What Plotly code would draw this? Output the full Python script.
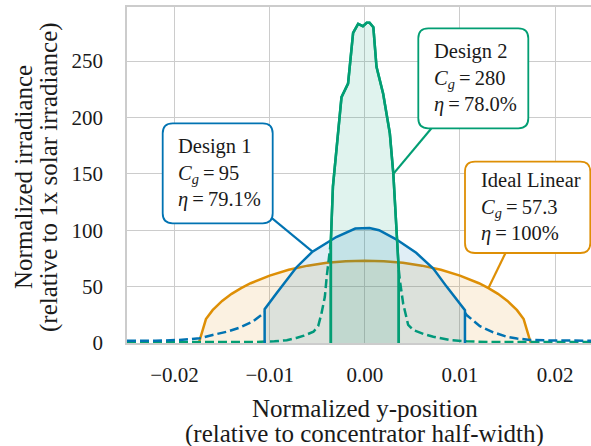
import plotly.graph_objects as go

# ---------------- data ----------------
ideal_x = [-0.01745, -0.0167, -0.016, -0.015, -0.014, -0.013, -0.012, -0.010, -0.008, -0.006,
           -0.004, -0.002, 0.0, 0.002, 0.004, 0.006, 0.008, 0.010, 0.012, 0.013, 0.014,
           0.015, 0.016, 0.0167, 0.01745]
ideal_y = [0, 21.2, 29.1, 37.3, 43.6, 48.7, 53.0, 59.8, 64.9, 68.6, 71.1, 72.5, 73.0, 72.5,
           71.1, 68.6, 64.9, 59.8, 53.0, 48.7, 43.6, 37.3, 29.1, 21.2, 0]

d1_x = [-0.01053, -0.01053, -0.0093, -0.0072, -0.0055, -0.003, -0.001, 0.0005, 0.0015,
        0.0033, 0.0054, 0.0072, 0.0086, 0.0103, 0.01053, 0.01053]
d1_y = [0, 30, 44, 67, 81, 94, 101.5, 102, 100, 92, 80, 66, 50, 31, 29, 0]
d1_left_x = [-0.025, -0.022, -0.0195, -0.01737, -0.016, -0.0145, -0.01316, -0.0118, -0.01053]
d1_left_y = [2, 2, 2.7, 4.2, 7.1, 10, 13.6, 19, 27]
d1_right_x = [0.01053, 0.0107, 0.0121, 0.0135, 0.0149, 0.016, 0.01737, 0.0195, 0.025]
d1_right_y = [27, 24.8, 15, 9.5, 5.6, 4, 2.7, 2.2, 2]

d2_x = [-0.00357, -0.00357, -0.00335, -0.0028, -0.00245, -0.00176, -0.00123, -0.0007,
        -0.0002, 0.0002, 0.0005, 0.0009, 0.00123, 0.00193, 0.00263, 0.003, 0.00326,
        0.0035, 0.00357, 0.00357]
d2_y = [0, 90, 139, 186, 218, 230, 275, 283, 281, 284, 284, 280, 245, 221, 186, 150, 112,
        70, 65, 0]
d2_left_x = [-0.025, -0.012, -0.0095, -0.0082, -0.0072, -0.0064, -0.0054, -0.0049,
             -0.00456, -0.0042, -0.004, -0.0038, -0.00357]
d2_left_y = [0.8, 0.8, 1.5, 2.5, 4.5, 6.5, 10, 15, 26, 41, 59, 75, 90]
d2_right_x = [0.00357, 0.00368, 0.00403, 0.00456, 0.0051, 0.0062, 0.0072, 0.0089, 0.0107,
              0.013, 0.025]
d2_right_y = [65, 56, 35, 16, 11.5, 8, 5.6, 2.7, 1.5, 0.8, 0.8]

x_ticks = [-0.02, -0.01, 0.0, 0.01, 0.02]
y_ticks = [0, 50, 100, 150, 200, 250]

EQ = "\u2009=\u2009"
labels = {
    "ideal": f"Ideal Linear<br><i>C</i><sub><i>g</i></sub>{EQ}57.3<br><i>η</i>{EQ}100%",
    "d1": f"Design 1<br><i>C</i><sub><i>g</i></sub>{EQ}95<br><i>η</i>{EQ}79.1%",
    "d2": f"Design 2<br><i>C</i><sub><i>g</i></sub>{EQ}280<br><i>η</i>{EQ}78.0%",
}
x_title = ["Normalized y-position", "(relative to concentrator half-width)"]
y_title = ["Normalized irradiance", "(relative to 1x solar irradiance)"]

# ---------------- styling / layout ----------------
BLUE, ORANGE, GREEN = "#0173b2", "#de8f05", "#029e73"
FILL_A = 0.12
FONT = "Liberation Serif, Times New Roman, serif"
TXT = "#1a1a1a"
GRID = "#cccccc"
LW = 2.5
DASH = "9px,4px"
TICK_SIZE = 21
BOX_SIZE = 20.5
TITLE_SIZE = 25

W, H = 591, 446
L, R, T, B = 127, 0, 7, 103
PW, PH = W - L - R, H - T - B
XR = [-0.025, 0.02378]
YR = [0, 298]


def rgba(hexc, a):
    h = hexc.lstrip("#")
    return f"rgba({int(h[0:2],16)},{int(h[2:4],16)},{int(h[4:6],16)},{a})"


def xp(px):
    return (px - L) / PW


def yp(py):
    return (H - B - py) / PH


def d2p(x, y):
    return (x - XR[0]) / (XR[1] - XR[0]), (y - YR[0]) / (YR[1] - YR[0])


def rounded_box(x0, y0, x1, y1, r):
    a, b = xp(x0), xp(x1)
    top, bot = yp(y0), yp(y1)
    rx, ry = r / PW, r / PH
    return (f"M {a+rx},{top} L {b-rx},{top} Q {b},{top} {b},{top-ry} "
            f"L {b},{bot+ry} Q {b},{bot} {b-rx},{bot} L {a+rx},{bot} "
            f"Q {a},{bot} {a},{bot+ry} L {a},{top-ry} Q {a},{top} {a+rx},{top} Z")


fig = go.Figure()


def add_series(xs, ys, lx, ly, rx_, ry_, color, name):
    fig.add_trace(go.Scatter(x=xs, y=ys, mode="lines", fill="tozeroy",
                             fillcolor=rgba(color, FILL_A),
                             line=dict(color=color, width=LW), name=name,
                             showlegend=False, hoverinfo="skip"))
    if lx is not None:
        for xx, yy in ((lx, ly), (rx_, ry_)):
            fig.add_trace(go.Scatter(x=xx, y=yy, mode="lines",
                                     line=dict(color=color, width=LW, dash=DASH),
                                     showlegend=False, hoverinfo="skip"))


add_series(ideal_x, ideal_y, None, None, None, None, ORANGE, "Ideal Linear")
add_series(d2_x, d2_y, d2_left_x, d2_left_y, d2_right_x, d2_right_y, GREEN, "Design 2")
add_series(d1_x, d1_y, d1_left_x, d1_left_y, d1_right_x, d1_right_y, BLUE, "Design 1")
fig.add_trace(go.Scatter(x=d2_x, y=d2_y, mode="lines", line=dict(color=GREEN, width=LW),
                         showlegend=False, hoverinfo="skip"))

# ---------------- labelled boxes ----------------
boxes = [
    ("d1", BLUE, (162.7, 123.3, 272.7, 223.3), 176, (d1_x[4], d1_y[4])),
    ("d2", GREEN, (418.3, 28.3, 528.3, 128.3), 432, (d2_x[15], d2_y[15])),
    ("ideal", ORANGE, (465, 161.7, 590.3, 253.0), 479, (ideal_x[19], ideal_y[19])),
]
shapes = []
annotations = []
for key, col, (bx0, by0, bx1, by1), tl, (tx, ty) in boxes:
    cx, cy = xp((bx0 + bx1) / 2), yp((by0 + by1) / 2)
    px_, py_ = d2p(tx, ty)
    shapes.append(dict(type="line", xref="paper", yref="paper", x0=px_, y0=py_, x1=cx, y1=cy,
                       line=dict(color=col, width=2.2), layer="above"))
    shapes.append(dict(type="path", xref="paper", yref="paper",
                       path=rounded_box(bx0, by0, bx1, by1, 10),
                       line=dict(color=col, width=1.8), fillcolor="white", layer="above"))
    annotations.append(dict(text=labels[key], xref="paper", yref="paper", x=xp(tl), y=cy,
                            xanchor="left", yanchor="middle", align="left", showarrow=False,
                            font=dict(family=FONT, size=BOX_SIZE, color=TXT)))

# axis titles (one annotation per line)
for txt, py in zip(x_title, (408, 434)):
    annotations.append(dict(text=txt, xref="x", yref="paper", x=0.0, y=yp(py),
                            xanchor="center", yanchor="middle", showarrow=False,
                            font=dict(family=FONT, size=TITLE_SIZE, color=TXT)))
for txt, px in zip(y_title, (23, 49)):
    annotations.append(dict(text=txt, xref="paper", yref="paper", x=xp(px), y=yp(177),
                            xanchor="center", yanchor="middle", textangle=-90,
                            showarrow=False,
                            font=dict(family=FONT, size=TITLE_SIZE, color=TXT)))

fig.update_layout(
    width=W, height=H, margin=dict(l=L, r=R, t=T, b=B, pad=0),
    paper_bgcolor="white", plot_bgcolor="white",
    font=dict(family=FONT, size=TICK_SIZE, color=TXT),
    shapes=shapes, annotations=annotations, showlegend=False,
)
fig.update_xaxes(range=XR, tickvals=x_ticks, tickformat=".2f", showgrid=True,
                 gridcolor=GRID, gridwidth=1.3, zeroline=False, showline=True,
                 linecolor=GRID, linewidth=1.5, mirror=True, ticks="",
                 ticklabelstandoff=12, tickfont=dict(family=FONT, size=TICK_SIZE, color=TXT))
fig.update_yaxes(range=YR, tickvals=y_ticks, showgrid=True, gridcolor=GRID, gridwidth=1.3,
                 zeroline=False, showline=True, linecolor=GRID, linewidth=1.5, ticks="",
                 ticklabelstandoff=18, tickfont=dict(family=FONT, size=TICK_SIZE, color=TXT))

fig.write_html("out.html")
